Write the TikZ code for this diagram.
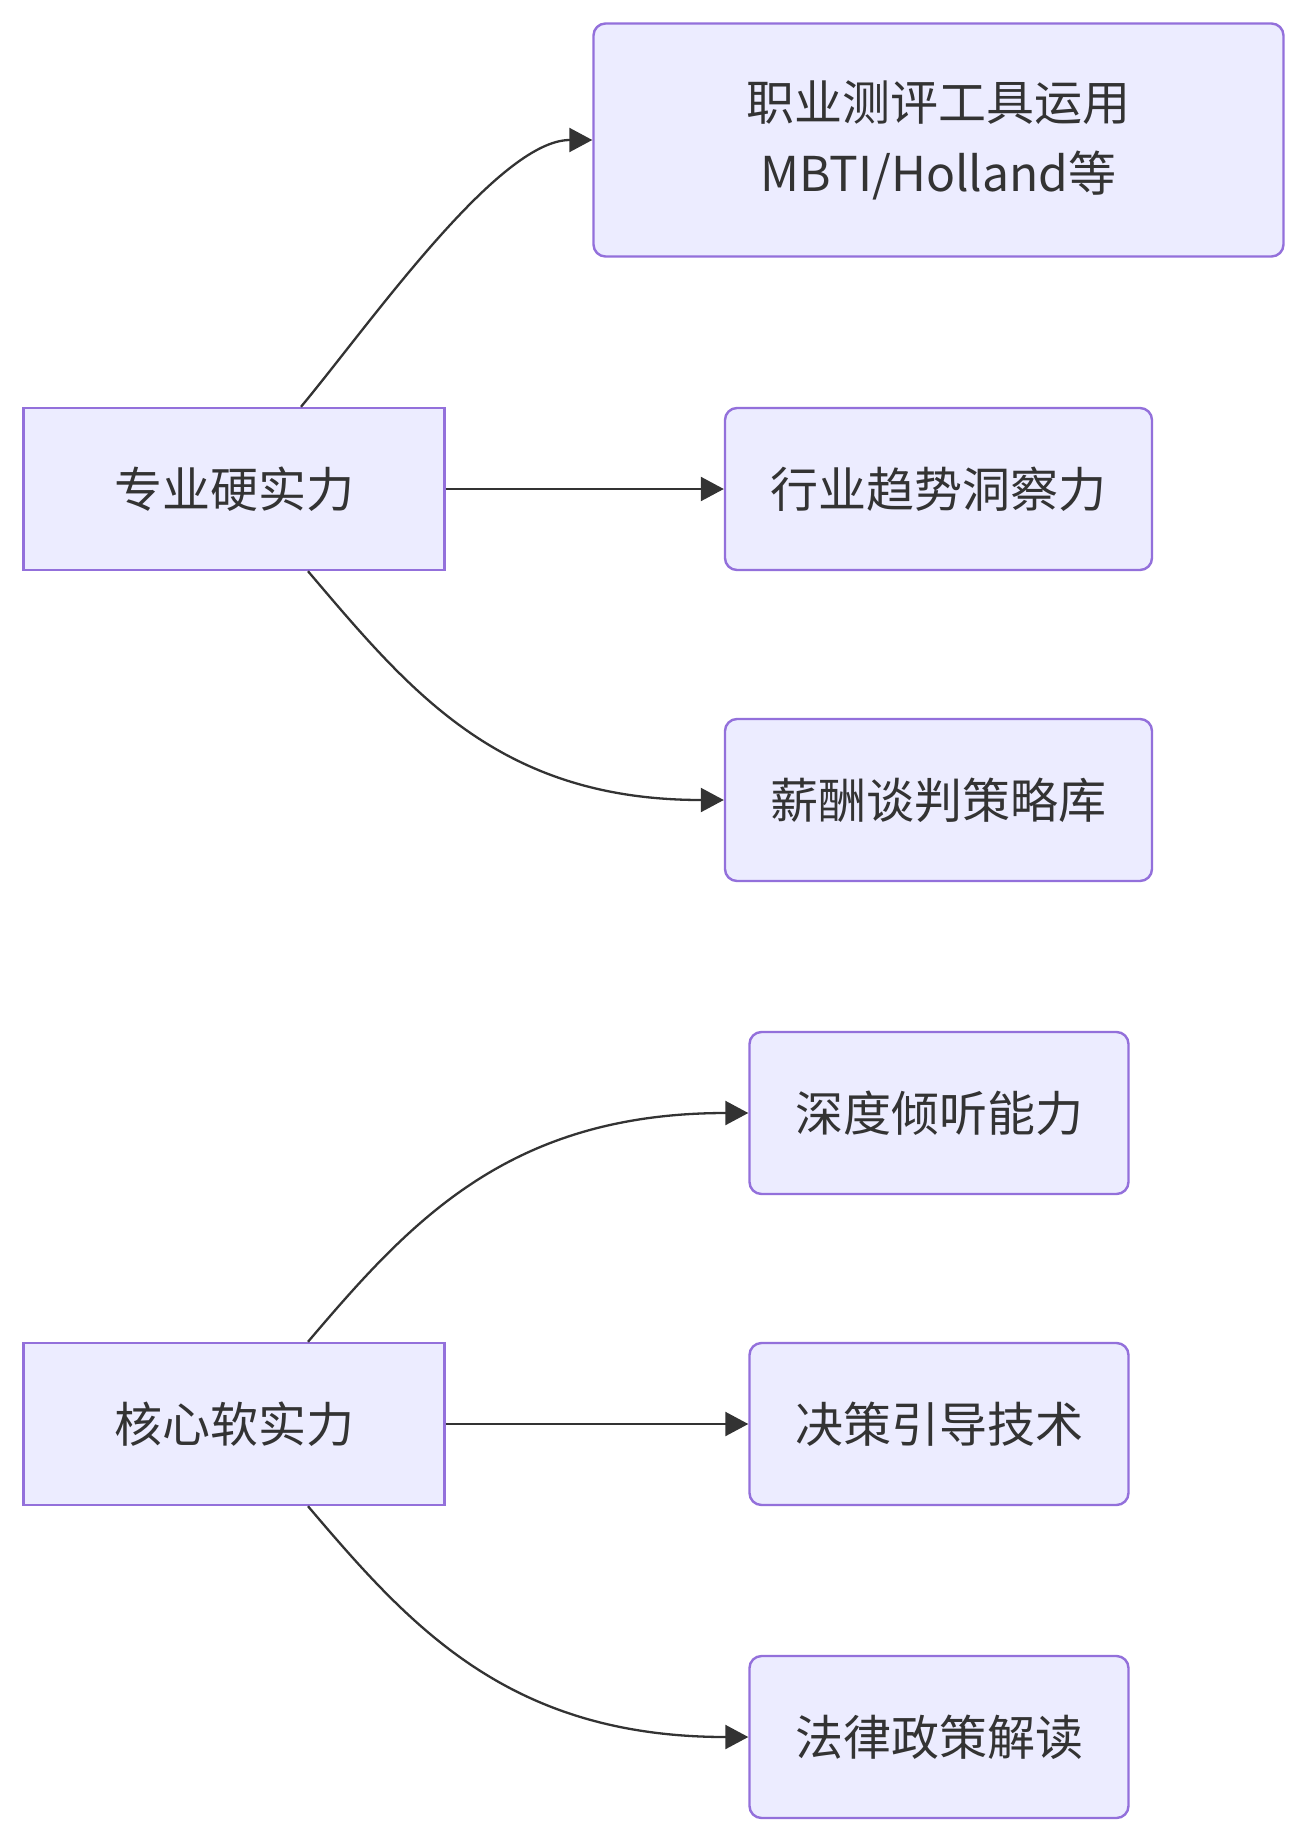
\documentclass[tikz,border=0pt]{standalone}
\usepackage{fontspec}
\setmainfont{Noto Sans CJK SC}
\usetikzlibrary{arrows.meta,calc}
\definecolor{nodefill}{HTML}{ECECFF}
\definecolor{nodeline}{HTML}{9370DB}
\definecolor{edgecol}{HTML}{333333}
\begin{document}
\begin{tikzpicture}[x=1pt,y=-1pt,
  box/.style={draw=nodeline, fill=nodefill, line width=2.4pt, inner sep=0pt,
    text=edgecol, font=\fontsize{48}{71}\selectfont, align=center,
    minimum height=162pt},
  rbox/.style={box, rounded corners=12pt},
  edge/.style={draw=edgecol, line width=2.3pt, -{Triangle[length=23pt,width=24pt]}}]
\fill[white] (0,0) rectangle (1308,1842);
\useasboundingbox (0,0) rectangle (1308,1842);

\node[box, minimum width=421pt] (A) at (234,489) {专业硬实力};
\node[box, minimum width=421pt] (B) at (234,1424) {核心软实力};

\node[rbox, minimum width=690pt, minimum height=233pt] (T1) at (938.5,140) {职业测评工具运用\\MBTI/Holland等};
\node[rbox, minimum width=427pt] (T2) at (938.5,489) {行业趋势洞察力};
\node[rbox, minimum width=427pt] (T3) at (938.5,800) {薪酬谈判策略库};

\node[rbox, minimum width=379pt] (S1) at (939,1113) {深度倾听能力};
\node[rbox, minimum width=379pt] (S2) at (939,1424) {决策引导技术};
\node[rbox, minimum width=379pt] (S3) at (939,1737) {法律政策解读};

\draw[edge] ($(A.north)+(67,0)$) .. controls +(69,-83) and +(-94,0) .. (T1.west);
\draw[edge] (A.east) -- (T2.west);
\draw[edge] ($(A.south)+(74,0)$) .. controls +(102,120) and +(-225,0) .. (T3.west);

\draw[edge] ($(B.north)+(74,0)$) .. controls +(102,-120) and +(-240,0) .. (S1.west);
\draw[edge] (B.east) -- (S2.west);
\draw[edge] ($(B.south)+(74,0)$) .. controls +(102,120) and +(-240,0) .. (S3.west);
\end{tikzpicture}
\end{document}
